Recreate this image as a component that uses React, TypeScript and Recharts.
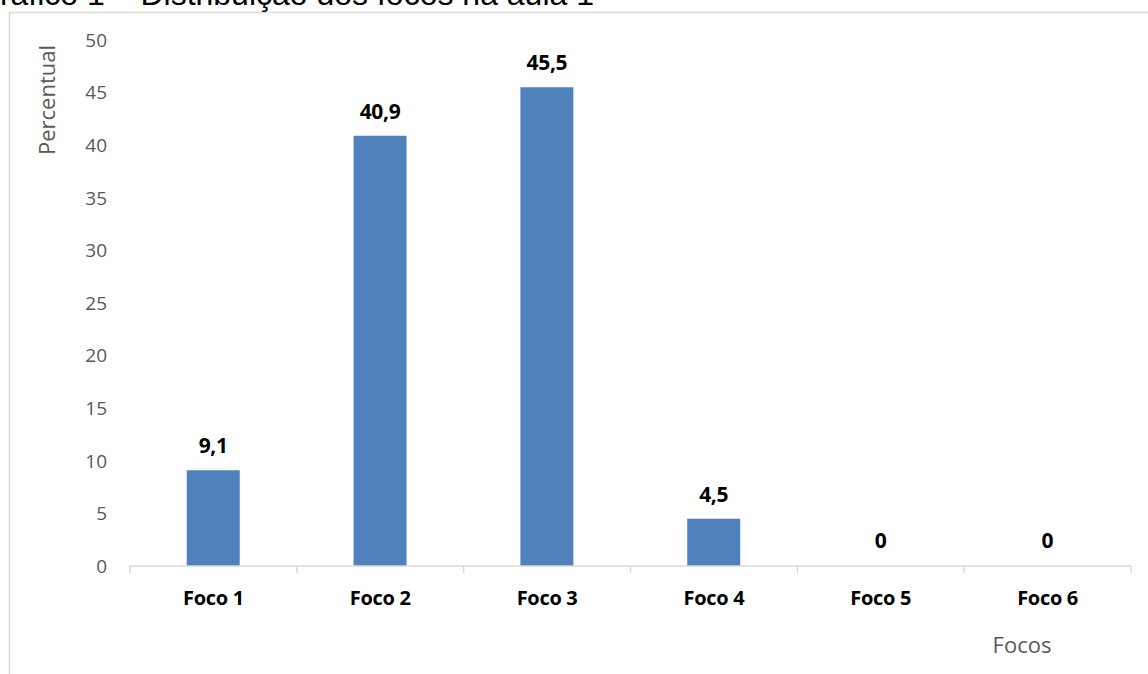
import React from "react";
import { BarChart, Bar, XAxis, YAxis, LabelList, Rectangle } from "recharts";

const categories = ["Foco 1", "Foco 2", "Foco 3", "Foco 4", "Foco 5", "Foco 6"];
const percentages = [9.1, 40.9, 45.5, 4.5, 0, 0];
const yTicks = [0, 5, 10, 15, 20, 25, 30, 35, 40, 45, 50];

const chartData = categories.map((name, i) => ({ name, value: percentages[i] }));

const FONT = "'Open Sans', sans-serif";
const AXIS_GRAY = "#d9d9d9";
const TEXT_GRAY = "#595959";

function formatDecimal(value: number | string): string {
  return String(value).replace(".", ",");
}

// zero bars keep a 1px slot so their label is still placed, but draw nothing
function BarShape(props: any) {
  if (!props.value) return <g />;
  return <Rectangle {...props} />;
}

// category label plus the boundary tick marks between categories
function CategoryTick(props: any) {
  const { x, y, payload, index, visibleTicksCount } = props;
  const half = payload.offset ?? 0;
  const isLast = index === visibleTicksCount - 1;
  return (
    <g>
      <line x1={x - half} y1={y - 8} x2={x - half} y2={y - 1} stroke={AXIS_GRAY} strokeWidth={1.5} />
      {isLast && (
        <line x1={x + half} y1={y - 8} x2={x + half} y2={y - 1} stroke={AXIS_GRAY} strokeWidth={1.5} />
      )}
      <text
        x={x}
        y={y + 31}
        textAnchor="middle"
        fontFamily={FONT}
        fontWeight={700}
        fontSize={20}
        fill="#000"
        letterSpacing={-0.3}
      >
        {payload.value}
      </text>
    </g>
  );
}

function YTitle(props: any) {
  const { viewBox } = props;
  const cx = viewBox.x + 46;
  const cy = viewBox.y + 60;
  return (
    <text
      x={cx}
      y={cy}
      transform={`rotate(-90, ${cx}, ${cy})`}
      textAnchor="middle"
      dominantBaseline="central"
      fontFamily={FONT}
      fontSize={22}
      fill={TEXT_GRAY}
    >
      Percentual
    </text>
  );
}

function XTitle(props: any) {
  const { viewBox } = props;
  return (
    <text
      x={viewBox.x + 892}
      y={viewBox.y + 87}
      textAnchor="middle"
      fontFamily={FONT}
      fontSize={22}
      fill={TEXT_GRAY}
    >
      Focos
    </text>
  );
}

export default function App() {
  return (
    <div style={{ position: "absolute", left: 0, top: 0, width: 1148, height: 674, background: "#fff", overflow: "hidden" }}>
      <svg width={1148} height={674} style={{ position: "absolute", left: 0, top: 0 }}>
        <rect x={9.5} y={12.5} width={1200} height={700} fill="none" stroke={AXIS_GRAY} strokeWidth={1.5} />
        <text x={-25} y={5} fontFamily="'Liberation Sans', Arial, sans-serif" fontSize={32} fill="#000">
          Gráfico 1 – Distribuição dos focos na aula 1
        </text>
      </svg>
      <div style={{ position: "absolute", left: 0, top: 0 }}>
        <BarChart
          width={1148}
          height={674}
          data={chartData}
          margin={{ top: 40, right: 17, bottom: 0, left: 0 }}
          barCategoryGap="34%"
        >
          <XAxis
            dataKey="name"
            height={108}
            axisLine={{ stroke: AXIS_GRAY, strokeWidth: 1.5 }}
            tickLine={false}
            interval={0}
            tick={<CategoryTick />}
            label={<XTitle />}
          />
          <YAxis
            width={130}
            domain={[0, 50]}
            ticks={yTicks}
            interval={0}
            axisLine={false}
            tickLine={false}
            tickSize={0}
            tickMargin={23}
            tick={{ fontFamily: FONT, fontSize: 19, fill: TEXT_GRAY }}
            label={<YTitle />}
          />
          <Bar dataKey="value" fill="#4f81bd" minPointSize={1} shape={<BarShape />} isAnimationActive={false}>
            <LabelList
              dataKey="value"
              position="top"
              offset={17}
              formatter={formatDecimal}
              style={{ fontFamily: FONT, fontWeight: 700, fontSize: 21, fill: "#000", letterSpacing: -0.3 }}
            />
          </Bar>
        </BarChart>
      </div>
    </div>
  );
}
